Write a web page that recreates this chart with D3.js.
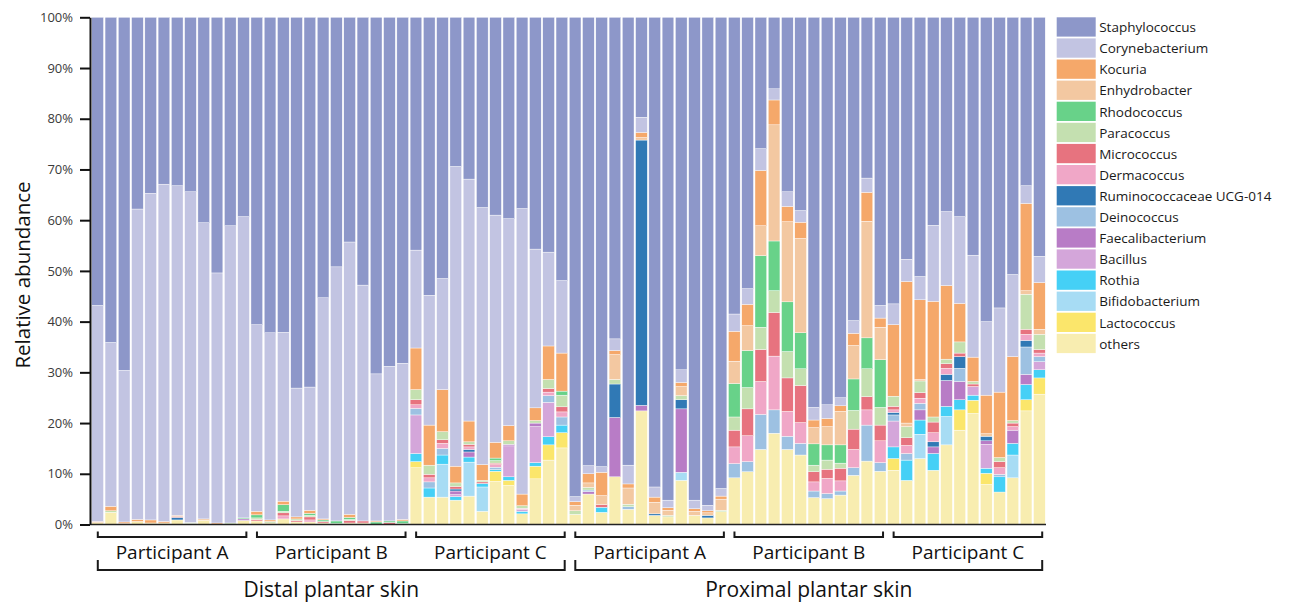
<!DOCTYPE html>
<html>
<head>
<meta charset="utf-8">
<script src="https://cdn.jsdelivr.net/npm/d3@7"></script>
<style>
  body { margin: 0; background: #fff; }
  text { font-family: "Open Sans", "DejaVu Sans", sans-serif; }
</style>
</head>
<body>
<svg id="chart" width="1291" height="602"></svg>
<script>
// Relative abundance (%) of skin bacterial genera, 72 samples:
// distal plantar skin (participants A, B, C: 12 samples each), then proximal plantar skin (A, B, C).
const staphylococcus = [
  56.8,64.1,69.6,37.8,34.7,32.9,33.2,34.4,40.5,50.4,41.1,39.3,
  60.6,62.2,62.1,73.1,72.9,55.3,49.2,44.3,52.8,70.3,68.8,68.2,
  45.9,54.8,51.5,29.4,31.9,37.5,39.0,39.7,37.7,45.7,46.3,51.9,
  94.5,88.4,88.6,63.4,88.3,19.7,92.6,95.2,69.5,95.2,96.2,92.9,
  58.5,53.5,25.9,14.1,34.4,38.1,76.9,76.4,75.0,59.8,31.7,56.8,
  56.5,47.7,51.1,41.0,38.3,39.3,46.9,60.0,57.3,50.7,33.2,47.1];
const corynebacterium = [
  42.6,32.3,29.9,61.2,64.4,66.5,65.0,65.2,58.4,49.3,58.6,59.4,
  36.8,36.9,33.3,25.4,24.3,43.6,50.1,53.7,46.5,29.0,30.5,30.8,
  19.3,25.6,21.9,59.1,47.7,50.7,44.8,40.8,56.3,31.3,18.5,14.3,
  1.0,1.6,1.1,2.3,3.7,3.0,2.0,1.5,2.5,1.7,1.1,1.5,
  3.4,3.1,4.3,2.2,2.9,2.3,2.5,2.7,1.6,2.5,2.8,2.5,
  4.1,4.4,4.6,15.0,14.6,17.1,20.1,14.5,16.6,16.2,3.5,5.2];
const kocuria = [
  0.2,0.9,0.3,0.4,0.6,0.3,0.2,0,0,0.3,0,0,
  0.7,0.3,0.7,0.4,0.6,0.2,0,0.6,0,0.2,0,0.3,
  8.2,7.9,8.3,3.3,4.1,3.1,3.1,3.0,2.3,2.5,6.6,7.5,
  0.7,1.8,4.6,0.8,0.8,1.0,1.0,0.5,0.8,0.5,0.4,0.6,
  5.9,4.2,10.9,4.9,3.0,3.2,1.5,1.6,1.1,2.4,5.7,1.8,
  14.1,27.9,15.7,22.8,14.5,7.6,4.8,7.6,12.9,12.6,17.2,9.2];
const enhydrobacter = [
  0,0,0,0,0,0,0,0,0.3,0,0,0,
  0,0,0,0,0,0,0,0,0,0,0,0,
  0,0,0,0,0,0,0,0,0,0,0,0,
  1.1,0.9,1.8,4.9,3.2,0.5,2.3,1.0,1.8,0.8,0.5,2.2,
  4.4,4.9,5.9,22.9,15.8,18.6,3.2,3.6,6.6,6.6,23.0,6.4,
  0,0.7,0.3,0,0,0,0,0.5,0,0,0.7,1.0];
const rhodococcus = [
  0,0,0,0,0,0,0,0,0,0,0,0.2,
  0.6,0,1.3,0,0.4,0.3,0.5,0.4,0,0.5,0.3,0.5,
  0,0,0,0,0,0,0.5,0,0,0,0,0.8,
  0,0,0,0,0,0,0,0,0,0,0,0,
  6.6,7.3,14.1,9.8,9.8,7.1,4.2,3.0,3.6,6.2,6.1,9.4,
  0,0,0,0,0,0,0,0,0,0,0,0];
const paracoccus = [
  0,0.3,0,0,0,0,0,0.2,0,0,0.3,0,
  0.3,0.3,0.3,0.3,0.3,0,0,0.2,0,0,0,0,
  2.0,1.8,1.6,0.7,0.5,0.3,0.5,0.7,0.5,0.5,1.8,2.3,
  0.7,0.5,0,0.9,0.5,0,0,0.3,0.8,0,0,0.3,
  2.6,4.2,4.4,4.3,5.2,3.3,1.3,1.8,1.0,3.7,5.5,3.5,
  2.0,2.2,2.3,1.0,0.9,2.2,0.5,0,0.8,0.5,6.9,3.0];
const micrococcus = [
  0,0,0,0,0,0,0.2,0,0,0,0,0,
  0.3,0,0.6,0.3,0.6,0.3,0,0.5,0.4,0,0.4,0,
  1.0,0.7,0.7,0.5,0.5,0.3,0.3,0,0,0,0.7,1.0,
  0,0,0.5,0,0,0,0,0,0,0,0,0,
  3.3,5.3,6.3,8.6,6.6,7.3,2.0,1.8,2.5,4.0,2.6,3.1,
  0.7,1.5,1.1,2.1,0.9,0.7,0.5,0,1.2,0.7,1.0,0.7];
const dermacoccus = [
  0,0,0,0,0,0,0,0,0,0,0,0,
  0,0,0.6,0,0.4,0,0,0,0,0,0,0,
  0.7,0.8,1.0,0,0.5,0,0.5,0,0.3,0,0.7,1.0,
  0,0,0,0,0,0,0,0,0,0,0,0,
  3.3,5.1,6.5,10.6,4.9,4.1,1.8,3.0,2.0,3.6,3.0,4.3,
  0.5,1.6,1.0,1.8,1.2,0,0,0,1.3,0.7,1.2,0.7];
const ruminococcaceae = [
  0,0,0,0,0,0,0.5,0,0,0,0,0,
  0,0,0,0,0,0,0,0,0,0,0,0,
  0,0,0,0.4,0.5,0,0,0,0,0,0,0,
  0,0,0,6.6,0,52.3,0.3,0,1.8,0,0.5,0,
  0,0,0,0,0,0,0,0,0,0,0,0,
  0.5,0,0,1.0,1.2,2.3,0,0.9,0,0,1.3,0];
const deinococcus = [
  0,0,0,0,0,0,0,0,0,0,0,0,
  0,0,0,0,0,0,0,0,0,0,0,0,
  1.3,1.2,1.3,0,0,0,0.5,0,0,0,1.3,1.6,
  0,0.3,0,0,0.5,0,0,0,0,0,0,0,
  2.8,2.0,6.9,4.6,2.6,2.3,1.3,1.0,0.8,1.5,7.1,1.7,
  1.2,1.3,1.3,0,0,2.6,0,0,0.5,0,5.4,1.0];
const faecalibacterium = [
  0,0,0,0,0,0,0,0,0,0,0,0.3,
  0,0,0,0,0,0,0,0,0,0,0,0,
  0,0,0,0.7,1.0,0,0,0.3,0,0.7,0,0,
  0,0.5,0,11.7,0,1.1,0,0,12.5,0,0,0,
  0,0,0,0,0,0,0,0,0,0,0,0,
  0,0,2.0,1.3,5.1,3.6,0,0.7,0,2.6,2.0,0];
const bacillus = [
  0,0,0,0,0,0,0,0,0,0,0,0,
  0,0,0,0,0,0,0,0,0,0,0,0,
  7.6,0,0,0.4,0,0,0,6.1,0.3,7.1,6.8,0,
  0,0,0,0,0,0,0,0,0,0,0,0,
  0,0,0,0,0,0,0,0,0,0,0,0,
  5.1,0,0,0,0,0,1.7,4.7,0,0,0,1.6];
const rothia = [
  0,0,0,0,0,0,0,0,0,0,0,0,
  0,0,0,0,0,0,0,0,0,0,0,0,
  1.6,1.8,1.8,0.7,1.0,0.7,0.3,0.7,0.5,0.7,1.6,1.5,
  0,0,1.0,0,0,0,0,0,0,0,0,0,
  0,0,0,0,0,0,0,0,0,0,0,0,
  2.3,4.0,2.8,3.3,2.0,2.0,1.0,1.0,3.0,2.3,3.0,1.6];
const bifidobacterium = [
  0,0,0,0,0,0,0,0,0,0,0,0,
  0,0,0,0,0,0,0,0,0,0,0,0,
  0,0,6.5,0,6.7,4.8,0,0,0,0,0,0,
  0,0,0,0,0,0,0,0,1.6,0,0,0,
  0,0,0,0,0,0,0,0,0,0,0,0,
  0,0,4.8,0,5.6,0,0,0,0,4.5,0,0];
const lactococcus = [
  0,0,0,0,0,0,0,0,0,0,0,0,
  0,0,0,0,0,0,0,0,0,0,0,0,
  1.2,0,0,0,0,0,2.0,1.0,0,2.5,3.0,3.0,
  0,0,0,0,0,0,0,0,0,0,0,0,
  0,0,0,0,0,0,0,0,0,0,0,0,
  2.3,0,0,0,0,4.0,2.6,2.2,0,0,2.2,3.2];
const others = [
  0.4,2.4,0.2,0.6,0.3,0.3,0.9,0.2,0.8,0,0,0.8,
  0.7,0.3,1.1,0.5,0.5,0.3,0.2,0.3,0.3,0,0,0.2,
  11.2,5.4,5.4,4.8,5.6,2.6,8.5,7.7,2.1,9.0,12.7,15.1,
  2.0,6.0,2.4,9.4,3.0,22.4,1.8,1.5,8.7,1.8,1.3,2.5,
  9.2,10.4,14.8,18.0,14.8,13.7,5.3,5.1,5.8,9.7,12.5,10.5,
  10.7,8.7,13.0,10.7,15.7,18.6,21.9,7.9,6.4,9.2,22.4,25.7];

const participants = ["Participant A", "Participant B", "Participant C"];
const sites = ["Distal plantar skin", "Proximal plantar skin"];
const yTicks = [0, 10, 20, 30, 40, 50, 60, 70, 80, 90, 100];

// Legend order (top of the stack first) with fill colours
const genera = [
  { name: "Staphylococcus",          values: staphylococcus,   color: "#8d97c9" },
  { name: "Corynebacterium",         values: corynebacterium,  color: "#c2c4e2" },
  { name: "Kocuria",                 values: kocuria,          color: "#f5a86a" },
  { name: "Enhydrobacter",           values: enhydrobacter,    color: "#f3c8a1" },
  { name: "Rhodococcus",             values: rhodococcus,      color: "#68d289" },
  { name: "Paracoccus",              values: paracoccus,       color: "#c4e0b0" },
  { name: "Micrococcus",             values: micrococcus,      color: "#e7737f" },
  { name: "Dermacoccus",             values: dermacoccus,      color: "#f0a7c7" },
  { name: "Ruminococcaceae UCG-014", values: ruminococcaceae,  color: "#3079b5" },
  { name: "Deinococcus",             values: deinococcus,      color: "#9dc1e2" },
  { name: "Faecalibacterium",        values: faecalibacterium, color: "#b87cc6" },
  { name: "Bacillus",                values: bacillus,         color: "#d4a6da" },
  { name: "Rothia",                  values: rothia,           color: "#45d0f6" },
  { name: "Bifidobacterium",         values: bifidobacterium,  color: "#a7dcf4" },
  { name: "Lactococcus",             values: lactococcus,      color: "#fbe66b" },
  { name: "others",                  values: others,           color: "#f8edb0" }
];

const nSamples = staphylococcus.length;
const perGroup = 12;

const rows = d3.range(nSamples).map(i => {
  const r = { i };
  genera.forEach(g => { r[g.name] = g.values[i]; });
  return r;
});

// "others" sits at the bottom of every bar, Staphylococcus on top
const keys = genera.map(g => g.name).slice().reverse();
const stacked = d3.stack().keys(keys)(rows);
const colorOf = new Map(genera.map(g => [g.name, g.color]));

const svg = d3.select("#chart");

const x = d3.scaleBand()
  .domain(d3.range(nSamples))
  .range([91, 1046])
  .paddingInner(0.12)
  .paddingOuter(0.06);

const y = d3.scaleLinear().domain([0, 100]).range([524.5, 17.3]);

// Stacked bars
svg.append("g")
  .selectAll("g")
  .data(stacked)
  .join("g")
  .attr("fill", s => colorOf.get(s.key))
  .selectAll("rect")
  .data(s => s.filter(d => d[1] - d[0] > 0))
  .join("rect")
  .attr("x", d => x(d.data.i))
  .attr("width", x.bandwidth())
  .attr("y", d => y(Math.min(100, d[1])))
  .attr("height", d => y(d[0]) - y(Math.min(100, d[1])))
  .attr("stroke", "#ffffff")
  .attr("stroke-width", 0.4);

// Baseline along 0%
svg.append("line")
  .attr("x1", 90).attr("x2", 1046)
  .attr("y1", y(0)).attr("y2", y(0))
  .attr("stroke", "#222").attr("stroke-width", 1.6);

// Y axis
const yAxis = svg.append("g")
  .attr("transform", "translate(90,0)")
  .call(d3.axisLeft(y).tickValues(yTicks).tickFormat(d => d + "%").tickSize(10).tickSizeOuter(0).tickPadding(7));
yAxis.select(".domain").attr("stroke", "#111").attr("stroke-width", 2);
yAxis.selectAll(".tick line").attr("stroke", "#111").attr("stroke-width", 2);
yAxis.selectAll(".tick text")
  .attr("fill", "#3a3a3a")
  .style("font-size", "13px")
  .style("font-family", "'Open Sans', sans-serif");

// Y axis title
svg.append("text")
  .attr("transform", "translate(30,275) rotate(-90)")
  .attr("text-anchor", "middle")
  .attr("fill", "#111")
  .style("font-size", "20.5px")
  .text("Relative abundance");

// Participant brackets and labels
const bracketStroke = "#1a1a1a";
sites.forEach((site, s) => {
  participants.forEach((p, k) => {
    const g = s * participants.length + k;
    const first = g * perGroup, last = first + perGroup - 1;
    const x0 = x(first) + 6, x1 = x(last) + x.bandwidth() - 3;
    svg.append("path")
      .attr("d", `M${x0},531.5V537H${x1}V531.5`)
      .attr("fill", "none")
      .attr("stroke", bracketStroke)
      .attr("stroke-width", 2);
    svg.append("text")
      .attr("x", (x0 + x1) / 2)
      .attr("y", 558.5)
      .attr("text-anchor", "middle")
      .attr("fill", "#111")
      .style("font-size", "19px")
      .text(p);
  });
  const first = s * participants.length * perGroup;
  const last = first + participants.length * perGroup - 1;
  const x0 = x(first) + 6, x1 = x(last) + x.bandwidth() - 3;
  svg.append("path")
    .attr("d", `M${x0},560V570H${x1}V560`)
    .attr("fill", "none")
    .attr("stroke", bracketStroke)
    .attr("stroke-width", 2);
  svg.append("text")
    .attr("x", (x0 + x1) / 2)
    .attr("y", 597)
    .attr("text-anchor", "middle")
    .attr("fill", "#111")
    .style("font-size", "21px")
    .text(site);
});

// Legend
const legend = svg.append("g").attr("transform", "translate(1056.7,17.3)");
const rowH = 21.1;
const item = legend.selectAll("g")
  .data(genera)
  .join("g")
  .attr("transform", (d, k) => `translate(0,${k * rowH})`);
item.append("rect")
  .attr("width", 39)
  .attr("height", 19.3)
  .attr("fill", d => d.color);
item.append("text")
  .attr("x", 42.5)
  .attr("y", 9.9)
  .attr("dominant-baseline", "central")
  .attr("fill", "#1a1a1a")
  .style("font-size", "13.5px")
  .text(d => d.name);
</script>
</body>
</html>
